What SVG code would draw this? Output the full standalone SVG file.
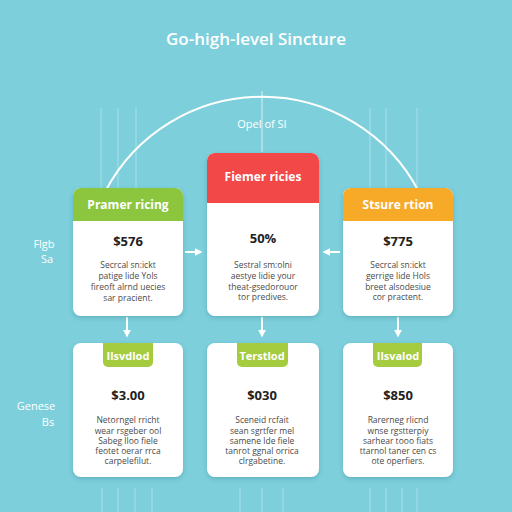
<svg xmlns="http://www.w3.org/2000/svg" width="512" height="512" viewBox="0 0 512 512">
<defs>
<filter id="sh" x="-20%" y="-20%" width="140%" height="140%">
<feDropShadow dx="0" dy="2" stdDeviation="2.5" flood-color="#2a7f8c" flood-opacity="0.35"/>
</filter>
<marker id="ah" viewBox="0 0 10 10" refX="8" refY="5" markerWidth="4" markerHeight="4" orient="auto">
<path d="M0,0 L10,5 L0,10 z" fill="#ffffff"/>
</marker>
<style>
text{font-family:"Open Sans","Liberation Sans",Arial,sans-serif;text-anchor:middle}
.title{font-size:17px;fill:#ffffff;font-weight:600}
.lbl{font-size:11px;fill:#ffffff}
.hd{font-size:12px;fill:#ffffff;font-weight:700}
.tag{font-size:11px;fill:#ffffff;font-weight:700}
.pr{font-size:13px;fill:#222222;font-weight:700}
.bd{font-size:8.5px;fill:#4a4a4a}
.card{fill:#ffffff;filter:url(#sh)}
.grid{stroke:#ffffff;stroke-opacity:0.35;stroke-width:1}
.conn{stroke:#ffffff;stroke-width:2;fill:none}
</style>
</defs>
<rect width="512" height="512" fill="#7ecfdc"/>
<g id="grid">
<line class="grid" x1="101" y1="108" x2="101" y2="188"/>
<line class="grid" x1="118" y1="108" x2="118" y2="188"/>
<line class="grid" x1="136" y1="108" x2="136" y2="188"/>
<line class="grid" x1="370" y1="108" x2="370" y2="188"/>
<line class="grid" x1="386" y1="108" x2="386" y2="188"/>
<line class="grid" x1="417" y1="108" x2="417" y2="188"/>
<line class="grid" x1="102" y1="488" x2="102" y2="512"/>
<line class="grid" x1="118" y1="488" x2="118" y2="512"/>
<line class="grid" x1="135" y1="488" x2="135" y2="512"/>
<line class="grid" x1="152" y1="488" x2="152" y2="512"/>
<line class="grid" x1="240" y1="488" x2="240" y2="512"/>
<line class="grid" x1="262" y1="488" x2="262" y2="512"/>
<line class="grid" x1="283" y1="488" x2="283" y2="512"/>
<line class="grid" x1="370" y1="488" x2="370" y2="512"/>
<line class="grid" x1="386" y1="488" x2="386" y2="512"/>
<line class="grid" x1="402" y1="488" x2="402" y2="512"/>
<line class="grid" x1="417" y1="488" x2="417" y2="512"/>
</g>
<text class="title" x="256" y="45">Go-high-level Sincture</text>
<g id="connectors">
<path class="conn" d="M105,192 A177,177 0 0 1 419,192"/>
<line x1="262" y1="91" x2="262" y2="152" stroke="#ffffff" stroke-width="1" stroke-opacity="0.7"/>
<line class="conn" x1="185" y1="252" x2="201" y2="252" marker-end="url(#ah)"/>
<line class="conn" x1="340" y1="252" x2="324" y2="252" marker-end="url(#ah)"/>
<line class="conn" x1="127" y1="317" x2="127" y2="336" marker-end="url(#ah)"/>
<line class="conn" x1="262" y1="317" x2="262" y2="336" marker-end="url(#ah)"/>
<line class="conn" x1="398" y1="317" x2="398" y2="336" marker-end="url(#ah)"/>
</g>
<text class="lbl" x="262" y="128" font-size="13">Opel of SI</text>
<g id="side-labels">
<text class="lbl" x="44" y="248">Flgb</text>
<text class="lbl" x="47" y="263">Sa</text>
<text class="lbl" x="36" y="410">Genese</text>
<text class="lbl" x="48" y="426">Bs</text>
</g>
<g id="card-top-left">
<rect class="card" x="73" y="188" width="110" height="128" rx="8"/>
<path d="M73,221 V196 a8,8 0 0 1 8,-8 H175 a8,8 0 0 1 8,8 V221 z" fill="#8cc63f"/>
<text class="hd" x="128" y="209">Pramer ricing</text>
<text class="pr" x="128" y="246">$576</text>
<text class="bd" x="128" y="268">Secrcal sn:ickt</text>
<text class="bd" x="128" y="279">patige lide Yols</text>
<text class="bd" x="128" y="290">fireoft alrnd uecies</text>
<text class="bd" x="128" y="301">sar pracient.</text>
</g>
<g id="card-top-center">
<rect class="card" x="207" y="153" width="112" height="163" rx="8"/>
<path d="M207,203 V161 a8,8 0 0 1 8,-8 H311 a8,8 0 0 1 8,8 V203 z" fill="#f24848"/>
<text class="hd" x="263" y="181">Fiemer ricies</text>
<text class="pr" x="263" y="243">50%</text>
<text class="bd" x="263" y="268">Sestral sm:olni</text>
<text class="bd" x="263" y="279">aestye lidie your</text>
<text class="bd" x="263" y="290">theat-gsedorouor</text>
<text class="bd" x="263" y="300">tor predives.</text>
</g>
<g id="card-top-right">
<rect class="card" x="343" y="188" width="110" height="128" rx="8"/>
<path d="M343,221 V196 a8,8 0 0 1 8,-8 H445 a8,8 0 0 1 8,8 V221 z" fill="#f7a928"/>
<text class="hd" x="398" y="209">Stsure rtion</text>
<text class="pr" x="398" y="246">$775</text>
<text class="bd" x="398" y="268">Secrcal sn:ickt</text>
<text class="bd" x="398" y="279">gerrige lide Hols</text>
<text class="bd" x="398" y="290">breet alsodesiue</text>
<text class="bd" x="398" y="300">cor practent.</text>
</g>
<g id="card-bottom-left">
<rect class="card" x="73" y="343" width="110" height="134" rx="8"/>
<path d="M103,343 H153 V362 a5,5 0 0 1 -5,5 H108 a5,5 0 0 1 -5,-5 z" fill="#a5cc3f"/>
<text class="tag" x="128" y="360">Ilsvdlod</text>
<text class="pr" x="128" y="400">$3.00</text>
<text class="bd" x="128" y="423" font-size="9.5">Netorngel rricht</text>
<text class="bd" x="128" y="434">wear rsgeber ool</text>
<text class="bd" x="128" y="444">Sabeg lloo fiele</text>
<text class="bd" x="128" y="454">feotet oerar rrca</text>
<text class="bd" x="128" y="464">carpelefilut.</text>
</g>
<g id="card-bottom-center">
<rect class="card" x="207" y="343" width="112" height="134" rx="8"/>
<path d="M237,343 H288 V362 a5,5 0 0 1 -5,5 H242 a5,5 0 0 1 -5,-5 z" fill="#a5cc3f"/>
<text class="tag" x="262" y="360">Terstlod</text>
<text class="pr" x="262" y="400">$030</text>
<text class="bd" x="262" y="423" font-size="9.5">Sceneid rcfait</text>
<text class="bd" x="262" y="434">sean sgrtfer mel</text>
<text class="bd" x="262" y="444">samene lde fiele</text>
<text class="bd" x="262" y="454">tanrot ggnal orrica</text>
<text class="bd" x="262" y="464">clrgabetine.</text>
</g>
<g id="card-bottom-right">
<rect class="card" x="343" y="343" width="110" height="134" rx="8"/>
<path d="M373,343 H422 V362 a5,5 0 0 1 -5,5 H378 a5,5 0 0 1 -5,-5 z" fill="#a5cc3f"/>
<text class="tag" x="398" y="360">Ilsvalod</text>
<text class="pr" x="398" y="400">$850</text>
<text class="bd" x="398" y="423" font-size="9.5">Rarerneg rlicnd</text>
<text class="bd" x="398" y="434">wnse rgstterpiy</text>
<text class="bd" x="398" y="444">sarhear tooo fiats</text>
<text class="bd" x="398" y="454">ttarnol taner cen cs</text>
<text class="bd" x="398" y="464">ote operfiers.</text>
</g>
</svg>
